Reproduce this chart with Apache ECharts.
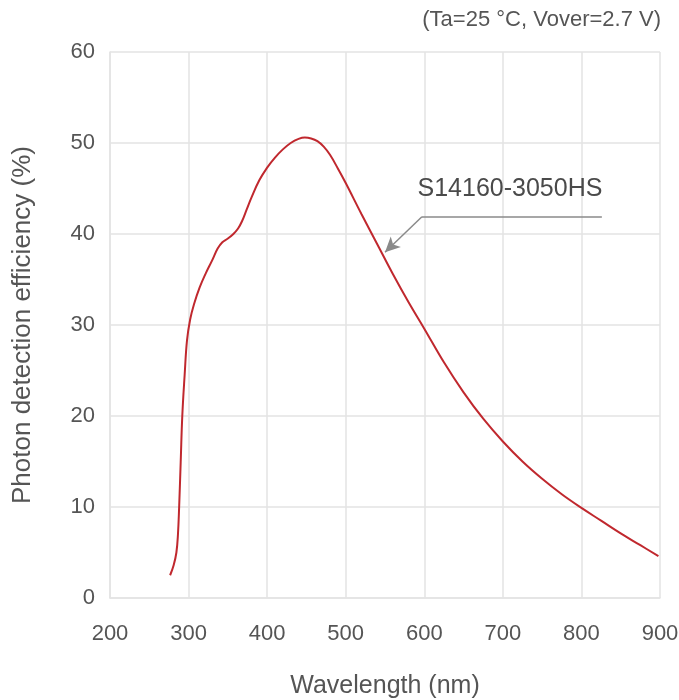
<!DOCTYPE html>
<html>
<head>
<meta charset="utf-8">
<script src="https://cdn.jsdelivr.net/npm/echarts@6/dist/echarts.min.js"></script>
<style>
  html, body { margin: 0; padding: 0; background: #fff; }
  #chart { width: 679px; height: 700px; }
</style>
</head>
<body>
<div id="chart"></div>
<script>
// Spectral photon detection efficiency, S14160-3050HS
const wavelengthNm = [276.5, 281, 284.5, 286.5, 288, 290, 292, 295, 298, 302, 307, 314, 322, 330, 337, 343, 350, 357, 363, 368, 374, 380, 390, 400, 410, 420, 430, 440, 448, 456, 464, 472, 480, 490, 500, 520, 540, 560, 580, 600, 625, 650, 675, 700, 725, 750, 775, 800, 825, 850, 875, 898];
const pdePercent   = [2.5, 3.6, 5.0, 7.0, 10.0, 15.0, 20.0, 24.5, 28.3, 30.6, 32.3, 34.1, 35.7, 37.1, 38.4, 39.1, 39.5, 40.0, 40.6, 41.4, 42.7, 44.0, 45.9, 47.3, 48.4, 49.3, 50.0, 50.45, 50.6, 50.5, 50.2, 49.6, 48.7, 47.2, 45.6, 42.2, 38.9, 35.6, 32.5, 29.6, 25.9, 22.6, 19.7, 17.2, 15.0, 13.1, 11.4, 9.9, 8.5, 7.1, 5.8, 4.6];

const seriesName = 'S14160-3050HS';
const conditionNote = '(Ta=25 °C, Vover=2.7 V)';
const xTitle = 'Wavelength (nm)';
const yTitle = 'Photon detection efficiency (%)';

// callout leader: arrow tip on the curve, elbow, end of the underline (data coords)
const calloutTip = [550, 38.0];
const calloutElbow = [597, 41.9];
const calloutEnd = [826, 41.9];
const calloutTextAt = [709, 44.9];

const FONT = '"Liberation Sans", Arial, Helvetica, sans-serif';
const gridColor = '#e3e3e3';
const textColor = '#555';

const chart = echarts.init(document.getElementById('chart'), null, { renderer: 'canvas' });

chart.setOption({
  animation: false,
  backgroundColor: '#fff',
  textStyle: { fontFamily: FONT },
  grid: { left: 110, right: 19, top: 52, bottom: 102, containLabel: false, outerBoundsMode: 'none' },
  title: {
    text: conditionNote,
    right: 13, top: 4,
    textStyle: { fontFamily: FONT, fontSize: 22, fontWeight: 'normal', color: textColor }
  },
  xAxis: {
    type: 'value', min: 200, max: 900, interval: 100,
    name: xTitle, nameLocation: 'middle', nameGap: 76,
    nameTextStyle: { fontFamily: FONT, fontSize: 25, color: textColor },
    axisLine: { show: true, lineStyle: { color: gridColor, width: 1.5 } },
    axisTick: { show: false },
    axisLabel: { margin: 25, fontFamily: FONT, fontSize: 22, color: textColor },
    splitLine: { show: true, lineStyle: { color: gridColor, width: 1.5 } }
  },
  yAxis: {
    type: 'value', min: 0, max: 60, interval: 10,
    name: yTitle, nameLocation: 'middle', nameGap: 74, nameRotate: 90,
    nameTextStyle: { fontFamily: FONT, fontSize: 26, color: textColor },
    axisLine: { show: true, lineStyle: { color: gridColor, width: 1.5 } },
    axisTick: { show: false },
    axisLabel: { margin: 15, fontFamily: FONT, fontSize: 22, color: textColor },
    splitLine: { show: true, lineStyle: { color: gridColor, width: 1.5 } }
  },
  series: [{
    name: seriesName,
    type: 'line',
    data: wavelengthNm.map((w, i) => [w, pdePercent[i]]),
    smooth: 0.4,
    showSymbol: false,
    lineStyle: { color: '#c0282e', width: 2 },
    markLine: {
      silent: true,
      animation: false,
      label: { show: false },
      lineStyle: { color: '#8a8a8a', width: 1.5, type: 'solid' },
      data: [
        [{ coord: calloutEnd, symbol: 'none' }, { coord: calloutElbow, symbol: 'none' }],
        [{ coord: calloutElbow, symbol: 'none' }, { coord: calloutTip, symbol: 'arrow', symbolSize: [11, 15] }]
      ]
    }
  }]
});

// callout label placed from data coordinates
const labelPx = chart.convertToPixel({ gridIndex: 0 }, calloutTextAt);
chart.setOption({
  graphic: [{
    type: 'text',
    x: labelPx[0], y: labelPx[1],
    style: {
      text: seriesName,
      font: '25px ' + FONT,
      fill: '#4a4a4a',
      textAlign: 'center',
      textVerticalAlign: 'middle'
    }
  }]
});
</script>
</body>
</html>
